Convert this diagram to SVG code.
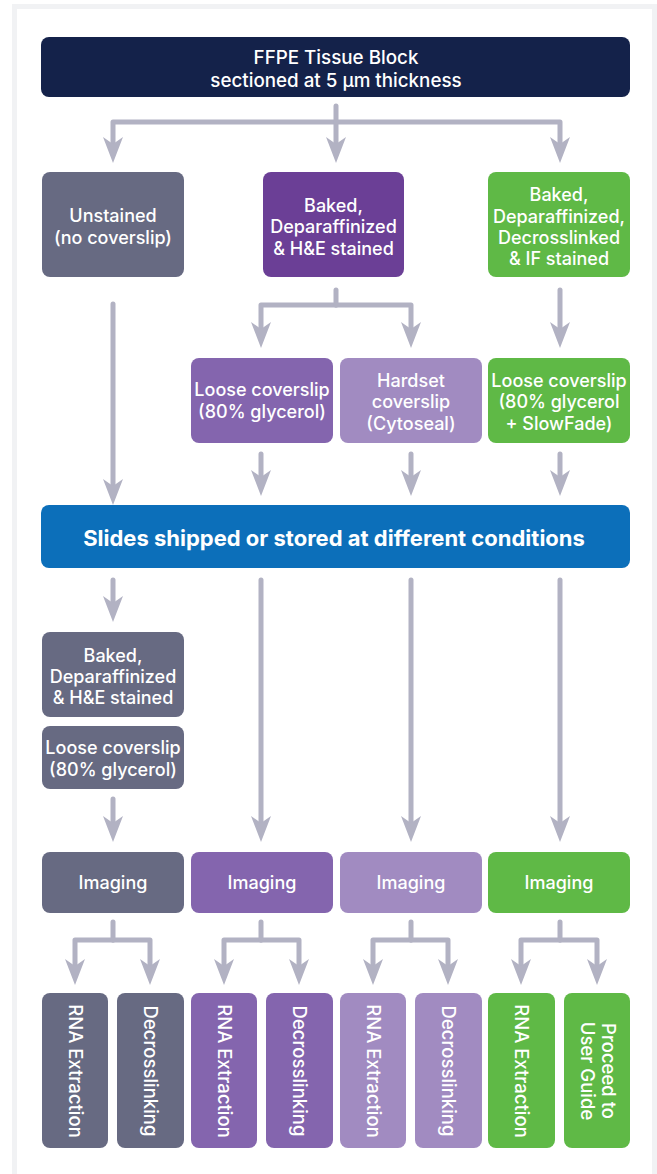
<svg xmlns="http://www.w3.org/2000/svg" width="657" height="1174" viewBox="0 0 657 1174">
<style>
.t{font-family:Inter,"Liberation Sans",sans-serif;font-size:18px;font-weight:500;fill:#fff;text-anchor:middle}
.h{font-size:18.8px}
.b{font-size:22px;font-weight:700}
.r{font-size:18.5px}
.c{fill:none;stroke:#b2b2c3;stroke-width:5;stroke-linecap:round;stroke-linejoin:round;marker-end:url(#ah)}
.s{fill:none;stroke:#b2b2c3;stroke-width:5;stroke-linecap:round;stroke-linejoin:round}
.gy{fill:#676a82}.pu{fill:#6b3f96}.lp{fill:#8465ae}.vl{fill:#a18bc1}.gr{fill:#5fb946}
</style>
<defs>
<marker id="ah" viewBox="0 0 26 20" refX="10" refY="10" markerWidth="26" markerHeight="20" markerUnits="userSpaceOnUse" orient="auto">
<path d="M0,0 L26,10 L0,20 L7,10 z" fill="#b2b2c3"/>
</marker>
</defs>
<rect width="657" height="1174" fill="#fff"/>
<path d="M14.5,1174 V6.5 H654.5 V1174" fill="none" stroke="#f1f2f4" stroke-width="5"/>

<g id="connectors">
<path class="s" d="M336,106 V122"/>
<path class="c" d="M336,122 H113 V147"/>
<path class="c" d="M336,122 V147"/>
<path class="c" d="M336,122 H560 V147"/>
<path class="s" d="M336,290 V305"/>
<path class="c" d="M336,305 H261 V332"/>
<path class="c" d="M336,305 H411 V332"/>
<path class="c" d="M560,290 V332"/>
<path class="c" d="M113,304 V489"/>
<path class="c" d="M261,454 V480"/>
<path class="c" d="M411,454 V480"/>
<path class="c" d="M560,454 V480"/>
<path class="c" d="M113,580 V606"/>
<path class="c" d="M113,799 V826"/>
<path class="c" d="M261,580 V826"/>
<path class="c" d="M411,580 V826"/>
<path class="c" d="M560,580 V826"/>
<path class="s" d="M113,922 V940"/>
<path class="c" d="M113,940 H75 V969"/>
<path class="c" d="M113,940 H150 V969"/>
<path class="s" d="M261,922 V940"/>
<path class="c" d="M261,940 H224 V969"/>
<path class="c" d="M261,940 H299 V969"/>
<path class="s" d="M411,922 V940"/>
<path class="c" d="M411,940 H373 V969"/>
<path class="c" d="M411,940 H448 V969"/>
<path class="s" d="M560,922 V940"/>
<path class="c" d="M560,940 H521 V969"/>
<path class="c" d="M560,940 H597 V969"/>
</g>

<g id="ffpe">
<rect x="41" y="37" width="589" height="60" rx="8" fill="#14224a"/>
<text class="t h" x="336" y="64">FFPE Tissue Block</text>
<text class="t h" x="336" y="87">sectioned at 5 µm thickness</text>
</g>

<g id="unstained">
<rect class="gy" x="42" y="172" width="142" height="105" rx="8"/>
<text class="t" x="113" y="222">Unstained</text>
<text class="t" x="113" y="244">(no coverslip)</text>
</g>
<g id="he">
<rect class="pu" x="263" y="172" width="141" height="105" rx="8"/>
<text class="t" x="333.5" y="212">Baked,</text>
<text class="t" x="333.5" y="233">Deparaffinized</text>
<text class="t" x="333.5" y="255">&amp; H&amp;E stained</text>
</g>
<g id="if">
<rect class="gr" x="488" y="172" width="142" height="105" rx="8"/>
<text class="t" x="559" y="201">Baked,</text>
<text class="t" x="559" y="223">Deparaffinized,</text>
<text class="t" x="559" y="244">Decrosslinked</text>
<text class="t" x="559" y="265">&amp; IF stained</text>
</g>

<g id="loose-he">
<rect class="lp" x="191" y="358" width="142" height="85" rx="8"/>
<text class="t" x="262" y="396">Loose coverslip</text>
<text class="t" x="262" y="418">(80% glycerol)</text>
</g>
<g id="hardset">
<rect class="vl" x="340" y="358" width="142" height="85" rx="8"/>
<text class="t" x="411" y="387">Hardset</text>
<text class="t" x="411" y="408">coverslip</text>
<text class="t" x="411" y="430">(Cytoseal)</text>
</g>
<g id="loose-if">
<rect class="gr" x="488" y="358" width="142" height="85" rx="8"/>
<text class="t" x="559" y="387">Loose coverslip</text>
<text class="t" x="559" y="408">(80% glycerol</text>
<text class="t" x="559" y="430">+ SlowFade)</text>
</g>

<g id="shipped">
<rect x="41" y="505" width="589" height="63" rx="8" fill="#0c6fba"/>
<text class="t b" x="334" y="546">Slides shipped or stored at different conditions</text>
</g>

<g id="later-he">
<rect class="gy" x="42" y="632" width="142" height="85" rx="8"/>
<text class="t" x="113" y="662">Baked,</text>
<text class="t" x="113" y="683">Deparaffinized</text>
<text class="t" x="113" y="704">&amp; H&amp;E stained</text>
</g>
<g id="later-loose">
<rect class="gy" x="42" y="726" width="142" height="63" rx="8"/>
<text class="t" x="113" y="754">Loose coverslip</text>
<text class="t" x="113" y="776">(80% glycerol)</text>
</g>

<g id="img1"><rect class="gy" x="42" y="852" width="142" height="61" rx="8"/><text class="t" x="113" y="889">Imaging</text></g>
<g id="img2"><rect class="lp" x="191" y="852" width="142" height="61" rx="8"/><text class="t" x="262" y="889">Imaging</text></g>
<g id="img3"><rect class="vl" x="340" y="852" width="142" height="61" rx="8"/><text class="t" x="411" y="889">Imaging</text></g>
<g id="img4"><rect class="gr" x="488" y="852" width="142" height="61" rx="8"/><text class="t" x="559" y="889">Imaging</text></g>

<g id="rna1"><rect class="gy" x="42" y="993" width="66" height="155" rx="8"/><text class="t r" transform="translate(75,1071) rotate(90)" y="6.5">RNA Extraction</text></g>
<g id="dec1"><rect class="gy" x="117" y="993" width="67" height="155" rx="8"/><text class="t r" transform="translate(150.5,1071) rotate(90)" y="6.5">Decrosslinking</text></g>
<g id="rna2"><rect class="lp" x="191" y="993" width="66" height="155" rx="8"/><text class="t r" transform="translate(224,1071) rotate(90)" y="6.5">RNA Extraction</text></g>
<g id="dec2"><rect class="lp" x="266" y="993" width="67" height="155" rx="8"/><text class="t r" transform="translate(299.5,1071) rotate(90)" y="6.5">Decrosslinking</text></g>
<g id="rna3"><rect class="vl" x="340" y="993" width="66" height="155" rx="8"/><text class="t r" transform="translate(373,1071) rotate(90)" y="6.5">RNA Extraction</text></g>
<g id="dec3"><rect class="vl" x="415" y="993" width="67" height="155" rx="8"/><text class="t r" transform="translate(448.5,1071) rotate(90)" y="6.5">Decrosslinking</text></g>
<g id="rna4"><rect class="gr" x="488" y="993" width="67" height="155" rx="8"/><text class="t r" transform="translate(521.5,1071) rotate(90)" y="6.5">RNA Extraction</text></g>
<g id="guide"><rect class="gr" x="564" y="993" width="66" height="155" rx="8"/><text class="t r" transform="translate(597,1071) rotate(90)"><tspan x="0" y="-4.5">Proceed to</tspan><tspan x="0" y="16.5">User Guide</tspan></text></g>
</svg>
